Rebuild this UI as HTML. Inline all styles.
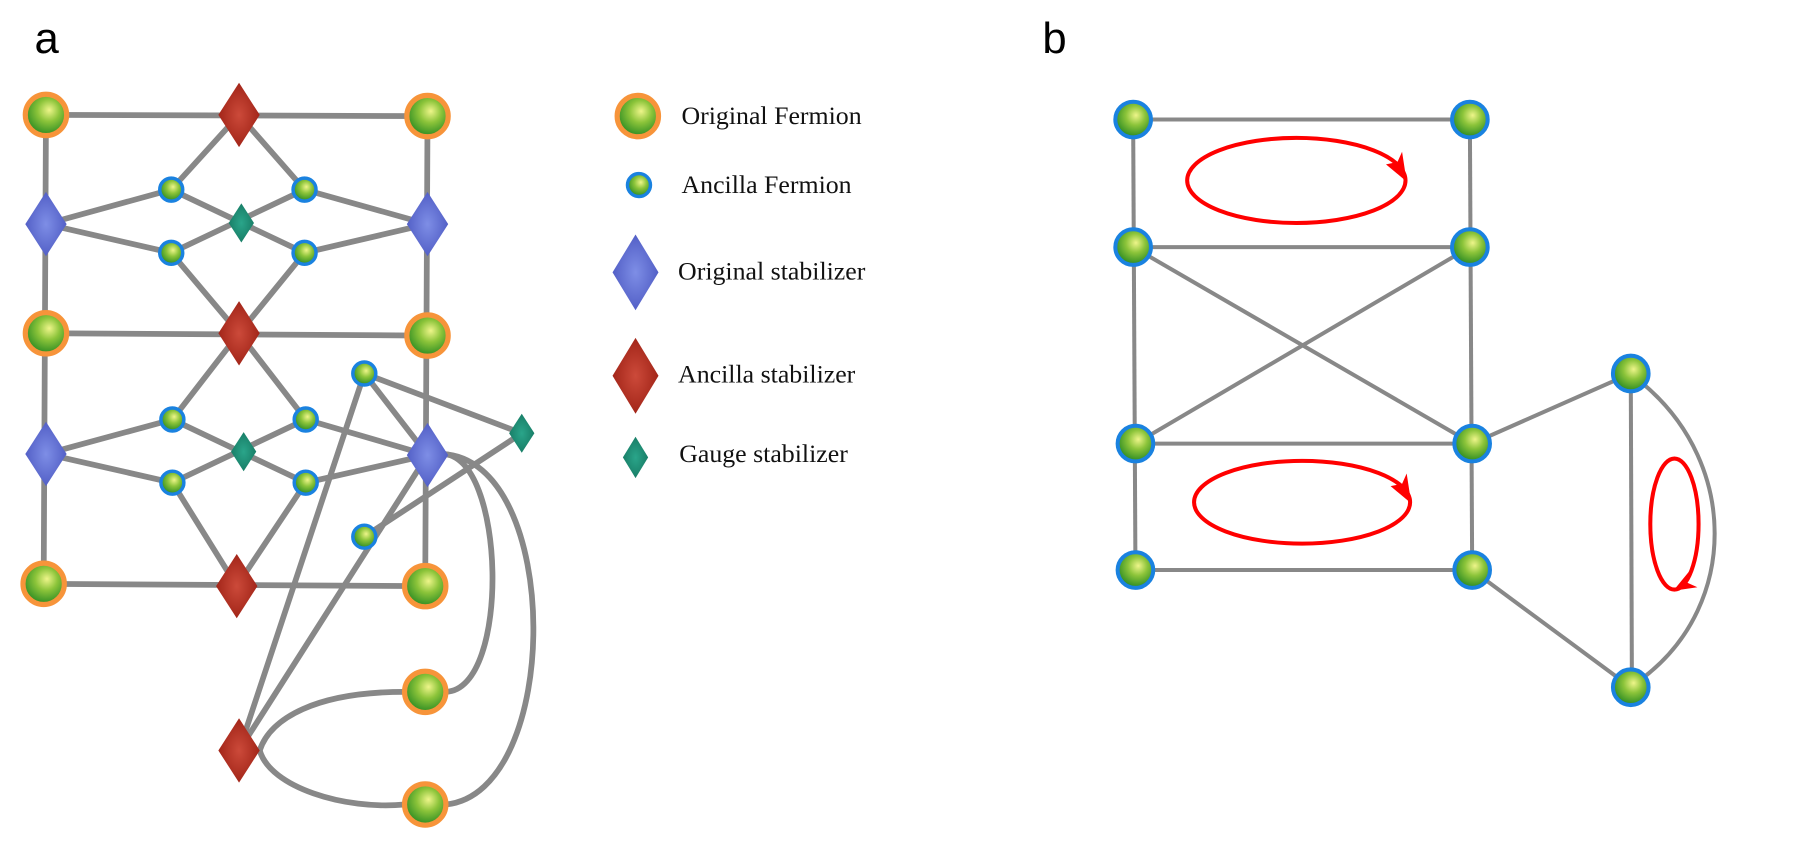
<!DOCTYPE html>
<html><head><meta charset="utf-8"><style>html,body{margin:0;padding:0;background:#fff}svg{display:block}</style></head>
<body>
<svg width="1802" height="847" viewBox="0 0 1568 737" xmlns="http://www.w3.org/2000/svg">
<defs>
<radialGradient id="g" cx="0.55" cy="0.4" r="0.6" fx="0.58" fy="0.38">
<stop offset="0" stop-color="#eef58a"/><stop offset="0.45" stop-color="#8cc43a"/><stop offset="1" stop-color="#2a8a22"/></radialGradient>
<radialGradient id="rd" cx="0.5" cy="0.5" r="0.6"><stop offset="0" stop-color="#cc4a3a"/><stop offset="1" stop-color="#9a1e12"/></radialGradient>
<radialGradient id="bd" cx="0.5" cy="0.5" r="0.6"><stop offset="0" stop-color="#7e8ee6"/><stop offset="1" stop-color="#4a56c0"/></radialGradient>
<radialGradient id="td" cx="0.5" cy="0.5" r="0.6"><stop offset="0" stop-color="#2aa58a"/><stop offset="1" stop-color="#157660"/></radialGradient>
</defs>
<text x="30" y="46" font-family="Liberation Sans, sans-serif" font-size="38">a</text>
<text x="907" y="46" font-family="Liberation Sans, sans-serif" font-size="38">b</text>

<g stroke="#888" stroke-width="5" fill="none" stroke-linecap="round">
<line x1="40" y1="100" x2="372" y2="101"/>
<line x1="40" y1="290" x2="372" y2="292"/>
<line x1="38" y1="508" x2="370" y2="510"/>
<line x1="40" y1="100" x2="38" y2="508"/>
<line x1="372" y1="101" x2="370" y2="510"/>
<polyline points="149,165 208,100 265,165"/>
<polyline points="149,165 40,195 149,220"/>
<polyline points="265,165 372,195 265,220"/>
<line x1="149" y1="165" x2="265" y2="220"/>
<line x1="149" y1="220" x2="265" y2="165"/>
<polyline points="149,220 208,290 265,220"/>
<polyline points="150,365 208,290 266,365"/>
<polyline points="150,365 40,395 150,420"/>
<polyline points="266,365 372,396 266,420"/>
<line x1="150" y1="365" x2="266" y2="420"/>
<line x1="150" y1="420" x2="266" y2="365"/>
<polyline points="150,420 206,510 266,420"/>
<line x1="317" y1="325" x2="454" y2="377"/>
<line x1="317" y1="325" x2="372" y2="396"/>
<line x1="317" y1="325" x2="208" y2="653"/>
<line x1="208" y1="653" x2="372" y2="396"/>
<line x1="317" y1="467" x2="454" y2="377"/>
<path d="M385,395 C440,395 445,600 388,602"/>
<path d="M385,395 C490,400 490,690 388,700"/>
<path d="M226,653 C235,625 275,602 352,602"/>
<path d="M226,653 C235,685 300,705 352,700"/>
</g>
<g stroke="none">
<polygon points="208,72 226,100 208,128 190,100" fill="url(#rd)"/>
<polygon points="208,262 226,290 208,318 190,290" fill="url(#rd)"/>
<polygon points="206,482 224,510 206,538 188,510" fill="url(#rd)"/>
<polygon points="208,625 226,653 208,681 190,653" fill="url(#rd)"/>
<polygon points="40,167 58,195 40,223 22,195" fill="url(#bd)"/>
<polygon points="372,167 390,195 372,223 354,195" fill="url(#bd)"/>
<polygon points="40,367 58,395 40,423 22,395" fill="url(#bd)"/>
<polygon points="372,368 390,396 372,424 354,396" fill="url(#bd)"/>
<polygon points="210,177 221,194 210,211 199,194" fill="url(#td)"/>
<polygon points="212,376 223,393 212,410 201,393" fill="url(#td)"/>
<polygon points="454,360 465,377 454,394 443,377" fill="url(#td)"/>
<polygon points="553,204 573,237 553,270 533,237" fill="url(#bd)"/>
<polygon points="553,294 573,327 553,360 533,327" fill="url(#rd)"/>
<polygon points="553,380 564,398 553,416 542,398" fill="url(#td)"/>
</g>
<g fill="url(#g)" stroke="#f7943a" stroke-width="4.5">
<circle cx="40" cy="100" r="18"/><circle cx="372" cy="101" r="18"/>
<circle cx="40" cy="290" r="18"/><circle cx="372" cy="292" r="18"/>
<circle cx="38" cy="508" r="18"/><circle cx="370" cy="510" r="18"/>
<circle cx="370" cy="602" r="18"/><circle cx="370" cy="700" r="18"/>
<circle cx="555" cy="101" r="18"/>
</g>
<g fill="url(#g)" stroke="#1a82e0" stroke-width="3">
<circle cx="149" cy="165" r="10"/><circle cx="265" cy="165" r="10"/>
<circle cx="149" cy="220" r="10"/><circle cx="265" cy="220" r="10"/>
<circle cx="150" cy="365" r="10"/><circle cx="266" cy="365" r="10"/>
<circle cx="150" cy="420" r="10"/><circle cx="266" cy="420" r="10"/>
<circle cx="317" cy="325" r="10"/><circle cx="317" cy="467" r="10"/>
<circle cx="556" cy="161" r="10"/>
</g>
<g font-family="Liberation Serif, serif" font-size="22.5" fill="#111">
<text x="593" y="108">Original Fermion</text>
<text x="593" y="168">Ancilla Fermion</text>
<text x="590" y="243">Original stabilizer</text>
<text x="590" y="333">Ancilla stabilizer</text>
<text x="591" y="402">Gauge stabilizer</text>
</g>

<g stroke="#888" stroke-width="3.5" fill="none">
<line x1="986" y1="104" x2="1279" y2="104"/>
<line x1="986" y1="215" x2="1279" y2="215"/>
<line x1="988" y1="386" x2="1281" y2="386"/>
<line x1="988" y1="496" x2="1281" y2="496"/>
<line x1="986" y1="104" x2="988" y2="496"/>
<line x1="1279" y1="104" x2="1281" y2="496"/>
<line x1="986" y1="215" x2="1281" y2="386"/>
<line x1="1279" y1="215" x2="988" y2="386"/>
<line x1="1281" y1="386" x2="1419" y2="325"/>
<line x1="1281" y1="496" x2="1419" y2="598"/>
<line x1="1419" y1="325" x2="1420" y2="598"/>
<path d="M1432,336 C1512,405 1512,525 1432,588"/>
</g>
<g fill="none" stroke="#f00" stroke-width="3.5">
<ellipse cx="1128" cy="157" rx="95" ry="37"/>
<ellipse cx="1133" cy="437" rx="94" ry="36"/>
<ellipse cx="1457" cy="456" rx="21" ry="57"/>
</g>
<g fill="#f00">
<polygon points="1224,158 1206,143 1216,141 1220,132"/>
<polygon points="1228,438 1210,423 1220,421 1224,412"/>
<polygon points="1456,514 1470,497 1468,507 1477,511"/>
</g>
<g fill="url(#g)" stroke="#1a82e0" stroke-width="3.5">
<circle cx="986" cy="104" r="15.5"/><circle cx="1279" cy="104" r="15.5"/>
<circle cx="986" cy="215" r="15.5"/><circle cx="1279" cy="215" r="15.5"/>
<circle cx="988" cy="386" r="15.5"/><circle cx="1281" cy="386" r="15.5"/>
<circle cx="988" cy="496" r="15.5"/><circle cx="1281" cy="496" r="15.5"/>
<circle cx="1419" cy="325" r="15.5"/><circle cx="1419" cy="598" r="15.5"/>
</g>
</svg>
</body></html>
